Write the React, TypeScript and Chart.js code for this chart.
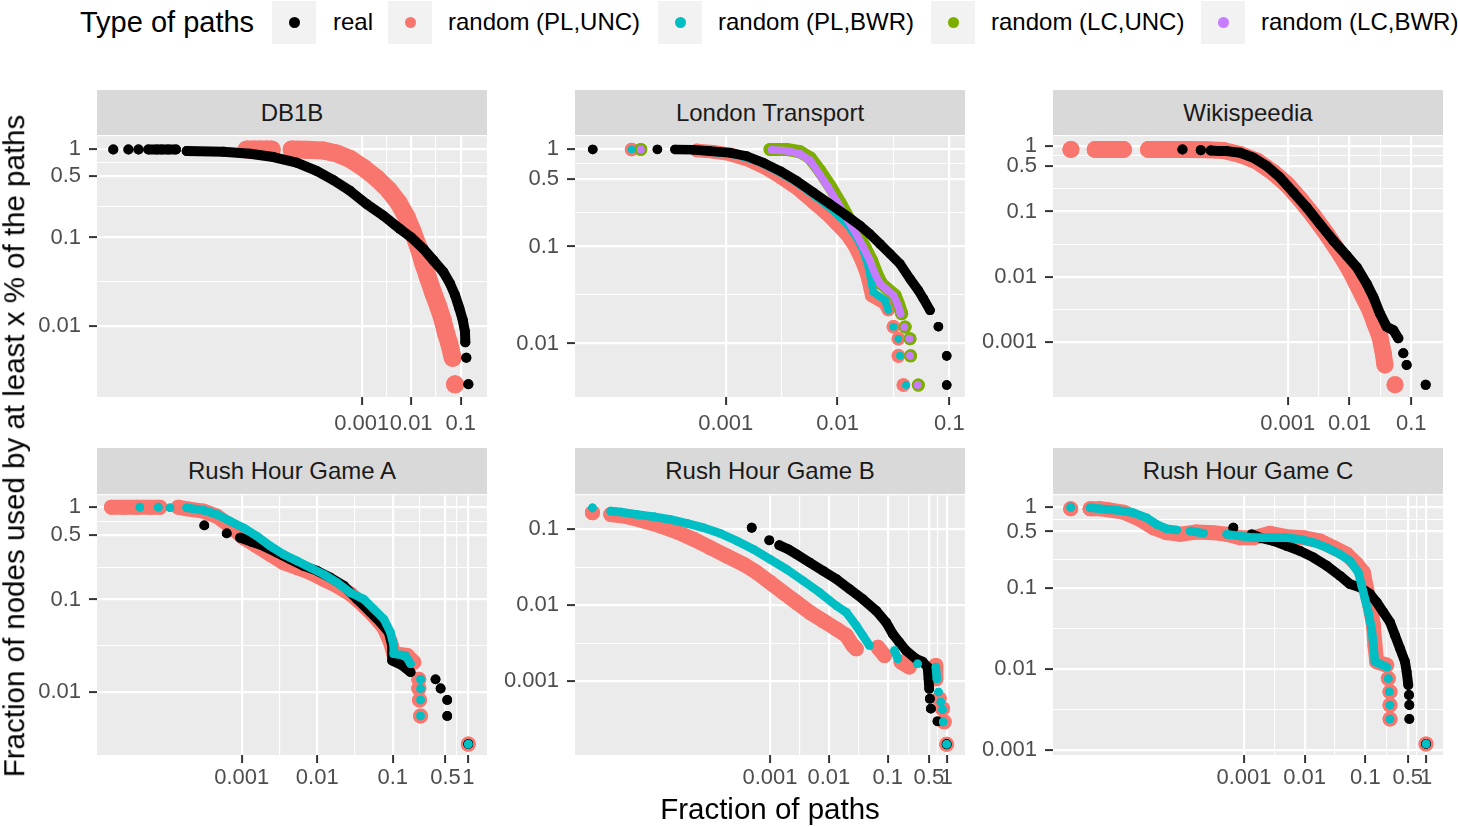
import React, { useEffect, useRef } from "react";
import { Chart, registerables } from "chart.js";

Chart.register(...registerables);

type Pt = [number, number] | null;

// ---------------- DATA (x = fraction of paths, y = fraction of nodes) ----------------
// DB1B
const db1bReal: Pt[] = [
  [9.6e-9, 1], null, [1.94e-8, 1], null, [3.1e-8, 1], null,
  [4.9e-8, 1], [7.2e-8, 1], [9.1e-8, 1], [1.23e-7, 1], [1.77e-7, 1], null,
  [2.92e-7, 0.96], [1.6e-6, 0.94], [5.55e-6, 0.894], [1.64e-5, 0.819], [4.86e-5, 0.708],
  [1.23e-4, 0.57], [2.68e-4, 0.448], [5.81e-4, 0.339], [1.26e-3, 0.24], [2.74e-3, 0.177],
  [5.95e-3, 0.125], [9.93e-3, 0.101], [0.0176, 0.0745], [0.0281, 0.0551], [0.0447, 0.0406],
  [0.061, 0.03], [0.0769, 0.0222], [0.094, 0.0157], [0.11, 0.0116], [0.122, 0.00855],
  [0.124, 0.00648], null, [0.13, 0.00432], null, [0.143, 0.00216],
];
const db1bPLUNC: Pt[] = [
  [4.75e-6, 1], [6.48e-6, 1], [8.83e-6, 1], [1.2e-5, 1], [1.52e-5, 1], null,
  [3.85e-5, 1], [7.74e-5, 0.99], [1.68e-4, 0.975], [3.13e-4, 0.9], [5.81e-4, 0.78],
  [1.08e-3, 0.62], [2.01e-3, 0.47], [3.46e-3, 0.35], [5.51e-3, 0.25], [8.11e-3, 0.17],
  [0.0107, 0.117], [0.014, 0.0778], [0.0176, 0.0505], [0.0222, 0.0342], [0.0281, 0.0232],
  [0.0354, 0.0164], [0.0433, 0.0116], [0.0506, 0.0082], [0.059, 0.0062], [0.0689, 0.00432],
  null, [0.0769, 0.00216],
];

// London Transport
const londonReal: Pt[] = [
  [6.47e-5, 1], null, [2.45e-4, 1], null,
  [3.52e-4, 1], [5.14e-4, 0.992], [7.24e-4, 0.961], [1.09e-3, 0.924], [1.54e-3, 0.854],
  [2.17e-3, 0.73], [3.06e-3, 0.6], [4.32e-3, 0.473], [6.08e-3, 0.36], [8.57e-3, 0.273],
  [0.0121, 0.207], [0.0159, 0.164], [0.0195, 0.134], [0.024, 0.106], [0.0295, 0.0838],
  [0.0362, 0.0662], [0.0445, 0.0464], [0.0528, 0.0353], [0.0586, 0.029], [0.0672, 0.022],
  null, [0.0798, 0.0149], null, [0.0947, 0.00746], null, [0.0947, 0.00373],
];
const londonPLUNC: Pt[] = [
  [1.44e-4, 1], null,
  [5.51e-4, 0.977], [7.76e-4, 0.946], [1.09e-3, 0.889], [1.54e-3, 0.79], [2.17e-3, 0.659],
  [3.06e-3, 0.52], [4.32e-3, 0.398], [6.08e-3, 0.284], [8.0e-3, 0.216], [9.84e-3, 0.17],
  [0.0121, 0.132], [0.0144, 0.098], [0.0164, 0.0716], [0.0182, 0.0522], [0.0195, 0.0381],
  [0.0202, 0.0313], [0.0266, 0.0261], [0.0285, 0.0224], null, [0.0316, 0.0149], null,
  [0.035, 0.0112], null, [0.035, 0.00746], null, [0.0388, 0.00373],
];
const londonPLBWR: Pt[] = [
  [1.44e-4, 1], null,
  [6.31e-4, 0.961], [1.25e-3, 0.875], [1.89e-3, 0.759], [2.86e-3, 0.599], [4.32e-3, 0.455],
  [6.52e-3, 0.319], [9.18e-3, 0.233], [0.0121, 0.17], [0.0148, 0.124], [0.017, 0.0906],
  [0.0189, 0.0611], [0.0202, 0.0412], [0.0209, 0.0339], [0.0266, 0.0278], [0.0285, 0.022],
  null, [0.0316, 0.0149], null, [0.035, 0.0112], null, [0.0362, 0.00746], null, [0.041, 0.00373],
];
const londonLCUNC: Pt[] = [
  [1.74e-4, 1], null,
  [2.49e-3, 1], [3.51e-3, 1], [4.62e-3, 0.946], [5.68e-3, 0.821], [6.98e-3, 0.599],
  [8.57e-3, 0.421], [0.0105, 0.284], [0.0129, 0.184], [0.0153, 0.132], [0.0176, 0.098],
  [0.0202, 0.0716], [0.0224, 0.0522], [0.0248, 0.0412], [0.0327, 0.0313], [0.035, 0.0257],
  [0.0375, 0.0203], null, [0.0402, 0.0148], null, [0.0445, 0.0112], null, [0.045, 0.00746], null,
  [0.0528, 0.00373],
];
const londonLCBWR: Pt[] = [
  [1.74e-4, 1], null,
  [2.58e-3, 0.99], [3.51e-3, 0.97], [4.62e-3, 0.9], [5.68e-3, 0.77], [6.75e-3, 0.576],
  [8.29e-3, 0.404], [0.0102, 0.273], [0.0125, 0.184], [0.0148, 0.132], [0.017, 0.098],
  [0.0195, 0.0716], [0.0216, 0.0522], [0.024, 0.0412], [0.0316, 0.0313], [0.0343, 0.0257],
  [0.0366, 0.0203], null, [0.0396, 0.0148], null, [0.0439, 0.0112], null, [0.0445, 0.00746], null,
  [0.0521, 0.00373],
];

// Wikispeedia
const wikiReal: Pt[] = [
  [1.98e-5, 0.89], null, [3.92e-5, 0.869], null,
  [5.69e-5, 0.859], [8.05e-5, 0.839], [1.03e-4, 0.839], [1.69e-4, 0.792], [2.79e-4, 0.664],
  [4.57e-4, 0.496], [7.52e-4, 0.33], [1.24e-3, 0.195], [2.03e-3, 0.115], [3.33e-3, 0.0641],
  [5.48e-3, 0.0357], [9.0e-3, 0.0211], [0.0131, 0.014], [0.019, 0.00781], [0.0243, 0.0049],
  [0.0311, 0.00273], [0.0399, 0.00171], [0.0512, 0.00152], [0.0617, 0.00114], null,
  [0.0743, 0.000672], null, [0.0841, 0.000446], null, [0.171, 0.000221],
];
const wikiPLUNC: Pt[] = [
  [3.1e-7, 0.89], null,
  [7.66e-7, 0.89], [1.04e-6, 0.89], [1.52e-6, 0.89], [2.2e-6, 0.89], null,
  [5.58e-6, 0.89], [1.1e-5, 0.89], [2.63e-5, 0.89], [4.9e-5, 0.88], [9.12e-5, 0.86],
  [1.69e-4, 0.747], [3.16e-4, 0.591], [5.86e-4, 0.393], [9.64e-4, 0.261], [1.58e-3, 0.154],
  [2.6e-3, 0.0859], [4.27e-3, 0.0451], [7.02e-3, 0.0224], [0.0102, 0.0125], [0.0131, 0.00781],
  [0.0168, 0.0049], [0.0215, 0.00307], [0.0258, 0.00192], [0.0311, 0.00121],
  [0.0352, 0.000672], [0.0375, 0.000446], null, [0.0545, 0.000221],
];

// Rush Hour Game A
const rhaReal: Pt[] = [
  [3.19e-4, 0.635], null, [6.32e-4, 0.52], null,
  [9.51e-4, 0.467], [1.36e-3, 0.42], [1.94e-3, 0.38], [2.92e-3, 0.322], [4.38e-3, 0.273],
  [6.59e-3, 0.231], [9.9e-3, 0.205], [0.0149, 0.173], [0.0224, 0.141], [0.0336, 0.101],
  [0.0506, 0.0728], [0.0686, 0.0568], [0.0885, 0.0443], [0.098, 0.0318], [0.098, 0.0219],
  [0.133, 0.0194], [0.172, 0.0164], null, [0.368, 0.0137], null, [0.43, 0.0109], null,
  [0.526, 0.0082], null, [0.526, 0.0055], null, [1, 0.00273],
];
const rhaPLUNC: Pt[] = [
  [1.88e-5, 1], [2.69e-5, 1], [4.04e-5, 1], [6.07e-5, 1], [8.24e-5, 1], null,
  [1.44e-4, 1], [1.86e-4, 0.96], [3.1e-4, 0.906], [4.66e-4, 0.8], [7.0e-4, 0.624],
  [1.05e-3, 0.467], [1.58e-3, 0.38], [2.38e-3, 0.309], [3.57e-3, 0.251], [5.37e-3, 0.222],
  [8.07e-3, 0.196], [0.0121, 0.166], [0.0182, 0.141], [0.0274, 0.115], [0.0412, 0.0859],
  [0.056, 0.067], [0.076, 0.0501], [0.0931, 0.0346], [0.103, 0.0259], [0.155, 0.0248],
  [0.19, 0.021], null, [0.221, 0.0137], null, [0.221, 0.0109], null, [0.226, 0.0082], null,
  [0.233, 0.0055], null, [1, 0.00273],
];
const rhaPLBWR: Pt[] = [
  [4.47e-5, 1], null, [7.84e-5, 1], null, [1.12e-4, 0.984], null,
  [1.86e-4, 0.984], [3.1e-4, 0.928], [4.66e-4, 0.834], [7.0e-4, 0.707], [1.05e-3, 0.599],
  [1.58e-3, 0.487], [2.38e-3, 0.38], [3.57e-3, 0.309], [5.37e-3, 0.262], [8.07e-3, 0.222],
  [0.0121, 0.188], [0.0182, 0.153], [0.0274, 0.119], [0.0412, 0.101], [0.056, 0.0791],
  [0.076, 0.0617], [0.0931, 0.0443], [0.103, 0.0318], [0.103, 0.0259], [0.147, 0.0248],
  [0.172, 0.0202], null, [0.233, 0.0137], null, [0.233, 0.0109], null, [0.233, 0.0082], null,
  [0.233, 0.0055], null, [1, 0.00273],
];

// Rush Hour Game B
const rhbReal: Pt[] = [
  [4.9e-4, 0.105], null, [9.74e-4, 0.0717], null,
  [1.44e-3, 0.0617], [2.04e-3, 0.0546], [2.82e-3, 0.0469], [4.74e-3, 0.0365], [7.97e-3, 0.0284],
  [0.0134, 0.0221], [0.0225, 0.0163], [0.0378, 0.012], [0.0635, 0.00847], [0.0937, 0.00595],
  [0.122, 0.00418], [0.157, 0.00325], [0.204, 0.00253], [0.301, 0.00197], [0.391, 0.0018],
  [0.474, 0.00153], [0.493, 0.00107], [0.506, 0.000793], null, [0.519, 0.000586], null,
  [0.54, 0.000433], null, [0.7, 0.000295], null, [1, 0.000147],
];
const rhbPLUNC: Pt[] = [
  [9.68e-7, 0.166], null,
  [1.98e-6, 0.157], [3.78e-6, 0.147], [7.22e-6, 0.129], [1.38e-5, 0.111], [2.65e-5, 0.0923],
  [5.06e-5, 0.0739], [9.68e-5, 0.0574], [1.85e-4, 0.0446], [3.54e-4, 0.0347], [5.95e-4, 0.027],
  [1.0e-3, 0.02], [1.68e-3, 0.0147], [2.82e-3, 0.0109], [4.74e-3, 0.00805], [7.97e-3, 0.00626],
  [0.0134, 0.00486], [0.0198, 0.00398], [0.0256, 0.00294], [0.0292, 0.00266], null,
  [0.0678, 0.00279], [0.088, 0.00217], null, [0.168, 0.00178], [0.232, 0.00153], null,
  [0.656, 0.00161], [0.656, 0.00107], null, [0.747, 0.000586], null, [0.851, 0.000433], null,
  [0.908, 0.00029], null, [1, 0.000147],
];
const rhbPLBWR: Pt[] = [
  [9.68e-7, 0.192], null,
  [1.98e-6, 0.174], [2.92e-6, 0.169], [5.57e-6, 0.157], [1.07e-5, 0.147], [2.04e-5, 0.135],
  [3.91e-5, 0.12], [7.46e-5, 0.105], [1.43e-4, 0.0886], [2.73e-4, 0.0703], [5.23e-4, 0.0546],
  [1.0e-3, 0.0404], [1.91e-3, 0.0298], [3.66e-3, 0.021], [7.0e-3, 0.0147], [0.0134, 0.00984],
  [0.0198, 0.00805], [0.0292, 0.00538], [0.0378, 0.00398], [0.049, 0.00294], null,
  [0.13, 0.00253], [0.148, 0.00197], null, [0.321, 0.00169], null,
  [0.656, 0.00153], [0.682, 0.00107], null, [0.727, 0.000717], null, [0.797, 0.00053], null,
  [0.851, 0.00042], null, [0.873, 0.00029], null, [1, 0.000147],
];

// Rush Hour Game C
const rhcReal: Pt[] = [
  [6.67e-4, 0.557], null,
  [1.34e-3, 0.462], [1.84e-3, 0.42], [3.05e-3, 0.382], [5.05e-3, 0.332], [8.38e-3, 0.288],
  [0.0139, 0.239], [0.0231, 0.189], [0.0382, 0.142], [0.0558, 0.112], [0.0817, 0.102],
  [0.119, 0.0847], [0.154, 0.0669], [0.198, 0.0504], [0.255, 0.038], [0.308, 0.0261],
  [0.373, 0.0179], [0.45, 0.0123], [0.48, 0.00924], [0.511, 0.00634], null, [0.525, 0.00478],
  null, [0.531, 0.0036], null, [0.531, 0.00242], null, [1, 0.00119],
];
const rhcPLUNC: Pt[] = [
  [1.39e-6, 0.954], null,
  [2.9e-6, 0.954], [4.23e-6, 0.954], [5.45e-6, 0.936], [1.03e-5, 0.868], [1.93e-5, 0.706],
  [3.2e-5, 0.557], [5.31e-5, 0.484], [8.81e-5, 0.462], [1.66e-4, 0.493], [3.12e-4, 0.484],
  [5.18e-4, 0.462], [8.59e-4, 0.42], [1.43e-3, 0.42], [2.68e-3, 0.475], [5.05e-3, 0.432],
  [9.51e-3, 0.42], [0.0179, 0.382], [0.0297, 0.317], [0.0492, 0.262], [0.0719, 0.198],
  [0.0927, 0.156], [0.105, 0.0975], [0.119, 0.0608], [0.136, 0.0346], [0.144, 0.0196],
  [0.154, 0.0123], [0.225, 0.0112], null, [0.239, 0.00766], null, [0.255, 0.00525], null,
  [0.255, 0.0036], null, [0.255, 0.00242], null, [1, 0.00119],
];
const rhcPLBWR: Pt[] = [
  [1.39e-6, 1], null,
  [2.9e-6, 0.981], [4.23e-6, 0.954], [7.96e-6, 0.919], [1.5e-5, 0.852], [2.49e-5, 0.74],
  [3.63e-5, 0.612], [5.31e-5, 0.542], [7.76e-5, 0.522], null, [1.29e-4, 0.507],
  [2.14e-4, 0.475], null, [5.18e-4, 0.462], [8.59e-4, 0.441], [1.43e-3, 0.42], [2.37e-3, 0.42],
  [5.05e-3, 0.42], [8.38e-3, 0.401], [0.0139, 0.365], [0.0231, 0.317], [0.0382, 0.262],
  [0.0558, 0.217], [0.0767, 0.156], [0.0871, 0.107], [0.0988, 0.0735], [0.112, 0.0504],
  [0.127, 0.0315], [0.136, 0.0196], [0.144, 0.0123], [0.225, 0.0106], null, [0.239, 0.00766],
  null, [0.249, 0.00525], null, [0.255, 0.0036], null, [0.255, 0.00242], null, [1, 0.00119],
];

// Labels / breaks
const legendTitle = "Type of paths";
const legendLabels = ["real", "random (PL,UNC)", "random (PL,BWR)", "random (LC,UNC)", "random (LC,BWR)"];
const panelTitles = ["DB1B", "London Transport", "Wikispeedia", "Rush Hour Game A", "Rush Hour Game B", "Rush Hour Game C"];
const xTitle = "Fraction of paths";
const yTitle = "Fraction of nodes used by at least x % of the paths";

const xBreaksTop = [0.001, 0.01, 0.1];
const xLabelsTop = ["0.001", "0.01", "0.1"];
const xMinorTop = [0.00316, 0.0316];
const xBreaksBottom = [0.001, 0.01, 0.1, 0.5, 1];
const xLabelsBottom = ["0.001", "0.01", "0.1", "0.5", "1"];
const xMinorBottom = [0.00316, 0.0316, 0.224, 0.707];
const yBreaks4 = [0.01, 0.1, 0.5, 1];
const yLabels4 = ["0.01", "0.1", "0.5", "1"];
const yMinor4 = [0.0316, 0.224, 0.707];
const yBreaks5 = [0.001, 0.01, 0.1, 0.5, 1];
const yLabels5 = ["0.001", "0.01", "0.1", "0.5", "1"];
const yMinor5 = [0.00316, 0.0316, 0.224, 0.707];
const yBreaks3 = [0.001, 0.01, 0.1];
const yLabels3 = ["0.001", "0.01", "0.1"];
const yMinor3 = [0.00316, 0.0316];

const xRanges: [number, number][] = [
  [4.5e-9, 0.34], [4.49e-5, 0.138], [1.59e-7, 0.326],
  [1.21e-5, 1.769], [4.89e-7, 2.05], [7.11e-7, 1.906],
];
const yRanges: [number, number][] = [
  [0.00155, 1.413], [0.00281, 1.369], [1.44e-4, 1.42],
  [0.00208, 1.347], [1.06e-4, 0.282], [8.68e-4, 1.405],
];

// ---------------- STYLE ----------------
const FONT = '"Liberation Sans", Arial, Helvetica, sans-serif';
const C_REAL = "#000000";
const C_PLUNC = "#F8766D";
const C_PLBWR = "#00BFC4";
const C_LCUNC = "#7CAE00";
const C_LCBWR = "#C77CFF";
const legendColors = [C_REAL, C_PLUNC, C_PLBWR, C_LCUNC, C_LCBWR];
const legendKeyX = [272, 388, 658, 931, 1201];
const legendTextX = [333, 448, 718, 991, 1261];

const COLS = [97, 575, 1053];
const PLOT_W = 390;
const ROWS = [
  { stripTop: 90, stripH: 45, plotTop: 135, plotH: 262, xPad: 6 },
  { stripTop: 448, stripH: 46, plotTop: 494, plotH: 261, xPad: 2 },
];
const W_Y = 70;
const H_X = 40;
const PAD_T = 20;
const PAD_R = 20;

interface Series { data: Pt[]; color: string; r: number }
interface PanelDef {
  title: string; col: number; row: number;
  xr: [number, number]; yr: [number, number];
  xB: number[]; xL: string[]; xM: number[];
  yB: number[]; yL: string[]; yM: number[];
  series: Series[]; // first = drawn on top
}

const panels: PanelDef[] = [
  {
    title: panelTitles[0], col: 0, row: 0, xr: xRanges[0], yr: yRanges[0],
    xB: xBreaksTop, xL: xLabelsTop, xM: xMinorTop, yB: yBreaks4, yL: yLabels4, yM: yMinor4,
    series: [
      { data: db1bReal, color: C_REAL, r: 5 },
      { data: db1bPLUNC, color: C_PLUNC, r: 9 },
    ],
  },
  {
    title: panelTitles[1], col: 1, row: 0, xr: xRanges[1], yr: yRanges[1],
    xB: xBreaksTop, xL: xLabelsTop, xM: xMinorTop, yB: yBreaks4, yL: yLabels4, yM: yMinor4,
    series: [
      { data: londonReal, color: C_REAL, r: 4.8 },
      { data: londonLCBWR, color: C_LCBWR, r: 3.8 },
      { data: londonPLBWR, color: C_PLBWR, r: 3.8 },
      { data: londonLCUNC, color: C_LCUNC, r: 6.5 },
      { data: londonPLUNC, color: C_PLUNC, r: 6.8 },
    ],
  },
  {
    title: panelTitles[2], col: 2, row: 0, xr: xRanges[2], yr: yRanges[2],
    xB: xBreaksTop, xL: xLabelsTop, xM: xMinorTop, yB: yBreaks5, yL: yLabels5, yM: yMinor5,
    series: [
      { data: wikiReal, color: C_REAL, r: 5 },
      { data: wikiPLUNC, color: C_PLUNC, r: 8.5 },
    ],
  },
  {
    title: panelTitles[3], col: 0, row: 1, xr: xRanges[3], yr: yRanges[3],
    xB: xBreaksBottom, xL: xLabelsBottom, xM: xMinorBottom, yB: yBreaks4, yL: yLabels4, yM: yMinor4,
    series: [
      { data: rhaPLBWR, color: C_PLBWR, r: 4.3 },
      { data: rhaReal, color: C_REAL, r: 4.9 },
      { data: rhaPLUNC, color: C_PLUNC, r: 7.5 },
    ],
  },
  {
    title: panelTitles[4], col: 1, row: 1, xr: xRanges[4], yr: yRanges[4],
    xB: xBreaksBottom, xL: xLabelsBottom, xM: xMinorBottom, yB: yBreaks3, yL: yLabels3, yM: yMinor3,
    series: [
      { data: rhbPLBWR, color: C_PLBWR, r: 4.3 },
      { data: rhbReal, color: C_REAL, r: 4.9 },
      { data: rhbPLUNC, color: C_PLUNC, r: 7.5 },
    ],
  },
  {
    title: panelTitles[5], col: 2, row: 1, xr: xRanges[5], yr: yRanges[5],
    xB: xBreaksBottom, xL: xLabelsBottom, xM: xMinorBottom, yB: yBreaks5, yL: yLabels5, yM: yMinor5,
    series: [
      { data: rhcPLBWR, color: C_PLBWR, r: 4.3 },
      { data: rhcReal, color: C_REAL, r: 4.9 },
      { data: rhcPLUNC, color: C_PLUNC, r: 7.5 },
    ],
  },
];

const bgPlugin = {
  id: "panelBg",
  beforeDraw(chart: any) {
    const { ctx, chartArea: a } = chart;
    ctx.save();
    ctx.fillStyle = "#EBEBEB";
    ctx.fillRect(a.left, a.top, a.right - a.left, a.bottom - a.top);
    ctx.restore();
  },
};

function makeTicks(major: number[], minor: number[]) {
  return [
    ...major.map((v) => ({ value: v, mj: true })),
    ...minor.map((v) => ({ value: v, mj: false })),
  ].sort((a, b) => a.value - b.value);
}

function gridOpts() {
  return {
    color: "#FFFFFF",
    lineWidth: (c: any) => (c.tick && c.tick.mj ? 2.2 : 1.1),
    tickColor: (c: any) => (c.tick && c.tick.mj ? "#333333" : "rgba(0,0,0,0)"),
    tickWidth: (c: any) => (c.tick && c.tick.mj ? 2 : 1),
    tickLength: 8,
    drawTicks: true,
  };
}

function Panel({ p }: { p: PanelDef }) {
  const ref = useRef<HTMLCanvasElement | null>(null);
  const row = ROWS[p.row];
  const W = W_Y + PLOT_W + PAD_R;
  const H = PAD_T + row.plotH + H_X;
  useEffect(() => {
    if (!ref.current) return;
    const toXY = (d: Pt) => (d ? { x: d[0], y: d[1] } : { x: NaN, y: NaN });
    const tickFont = { family: FONT, size: 22 };
    const chart = new Chart(ref.current, {
      type: "scatter",
      data: {
        datasets: p.series.map((s) => ({
          data: s.data.map(toXY),
          showLine: true,
          borderColor: s.color,
          backgroundColor: s.color,
          borderWidth: s.r * 2,
          borderCapStyle: "round",
          borderJoinStyle: "round",
          tension: 0,
          spanGaps: false,
          pointRadius: s.r,
          pointHoverRadius: s.r,
          pointBackgroundColor: s.color,
          pointBorderWidth: 0,
        })) as any,
      },
      options: {
        animation: false,
        responsive: false,
        devicePixelRatio: 1,
        events: [],
        layout: { padding: { top: PAD_T, right: PAD_R, left: 0, bottom: 0 } },
        plugins: { legend: { display: false }, tooltip: { enabled: false } },
        scales: {
          x: {
            type: "logarithmic",
            min: p.xr[0],
            max: p.xr[1],
            bounds: "data",
            afterBuildTicks: (s: any) => { s.ticks = makeTicks(p.xB, p.xM); },
            afterFit: (s: any) => { s.height = H_X; },
            ticks: {
              autoSkip: false, maxRotation: 0, minRotation: 0, padding: row.xPad,
              color: "#4D4D4D", font: tickFont,
              callback: (v: any) => { const i = p.xB.indexOf(v); return i >= 0 ? p.xL[i] : ""; },
            },
            grid: gridOpts(),
            border: { display: false },
          },
          y: {
            type: "logarithmic",
            min: p.yr[0],
            max: p.yr[1],
            bounds: "data",
            afterBuildTicks: (s: any) => { s.ticks = makeTicks(p.yB, p.yM); },
            afterFit: (s: any) => { s.width = W_Y; },
            ticks: {
              autoSkip: false, padding: 8,
              color: "#4D4D4D", font: tickFont,
              callback: (v: any) => { const i = p.yB.indexOf(v); return i >= 0 ? p.yL[i] : ""; },
            },
            grid: gridOpts(),
            border: { display: false },
          },
        },
      } as any,
      plugins: [bgPlugin],
    });
    return () => chart.destroy();
  }, []);
  const left = COLS[p.col];
  return (
    <>
      <div
        style={{
          position: "absolute", left, top: row.stripTop, width: PLOT_W, height: row.stripH,
          background: "#D9D9D9", color: "#1A1A1A", fontSize: 24, display: "flex",
          alignItems: "center", justifyContent: "center", whiteSpace: "nowrap",
        }}
      >
        {p.title}
      </div>
      <canvas
        ref={ref}
        width={W}
        height={H}
        style={{ position: "absolute", left: left - W_Y, top: row.plotTop - PAD_T, width: W, height: H }}
      />
    </>
  );
}

export default function App() {
  return (
    <div
      style={{
        position: "absolute", left: 0, top: 0, width: 1458, height: 827,
        background: "#FFFFFF", fontFamily: FONT, overflow: "hidden",
      }}
    >
      <div
        style={{
          position: "absolute", left: 80, top: 22, transform: "translateY(-50%)",
          fontSize: 29, color: "#000", whiteSpace: "nowrap", lineHeight: 1,
        }}
      >
        {legendTitle}
      </div>
      {legendLabels.map((lab, i) => (
        <React.Fragment key={lab}>
          <div
            style={{
              position: "absolute", left: legendKeyX[i], top: 1, width: 44, height: 43,
              background: "#F2F2F2",
            }}
          >
            <div
              style={{
                position: "absolute", left: 22 - 5.5, top: 21.5 - 5.5, width: 11, height: 11,
                borderRadius: "50%", background: legendColors[i],
              }}
            />
          </div>
          <div
            style={{
              position: "absolute", left: legendTextX[i], top: 22, transform: "translateY(-50%)",
              fontSize: 24, color: "#000", whiteSpace: "nowrap", lineHeight: 1,
            }}
          >
            {lab}
          </div>
        </React.Fragment>
      ))}
      {panels.map((p) => (
        <Panel key={p.title} p={p} />
      ))}
      <div
        style={{
          position: "absolute", left: 770, top: 809, transform: "translate(-50%, -50%)",
          fontSize: 29.5, color: "#000", whiteSpace: "nowrap", lineHeight: 1,
        }}
      >
        {xTitle}
      </div>
      <div
        style={{
          position: "absolute", left: 14, top: 446, transform: "translate(-50%, -50%) rotate(-90deg)",
          fontSize: 29.5, color: "#000", whiteSpace: "nowrap", lineHeight: 1,
        }}
      >
        {yTitle}
      </div>
    </div>
  );
}
